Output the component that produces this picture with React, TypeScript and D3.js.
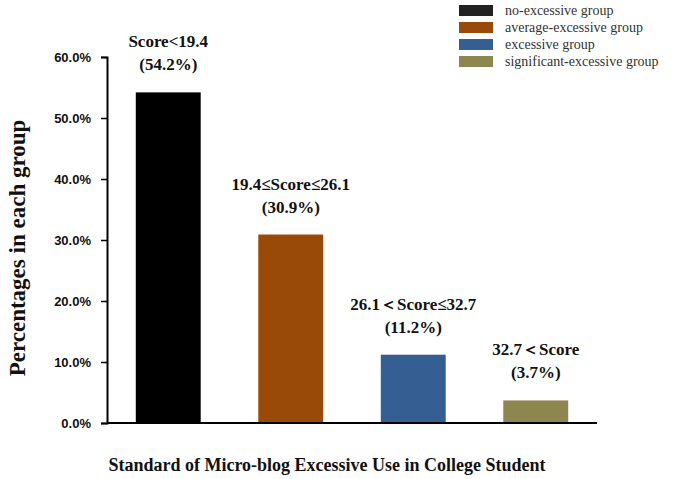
import React, { useEffect, useRef } from 'react'
import * as d3 from 'd3'

const categories = ['no-excessive group', 'average-excessive group', 'excessive group', 'significant-excessive group']
const percentages = [54.2, 30.9, 11.2, 3.7]
const rangeLabels = ['Score<19.4', '19.4≤Score≤26.1', '26.1＜Score≤32.7', '32.7＜Score']
const barColors = ['#000000', '#9a4a08', '#355f92', '#8c864f']
const yTicks = [0, 10, 20, 30, 40, 50, 60]

const W = 675
const H = 479
const left = 107
const right = 597
const top = 57
const bottom = 423

const serif = '"Liberation Serif", "Times New Roman", serif'

export default function App() {
    const yAxisRef = useRef<SVGGElement>(null)

    const x = d3.scaleBand<string>()
        .domain(categories)
        .range([left, right])
        .paddingInner(0.47)
        .paddingOuter(0.235)
    const y = d3.scaleLinear().domain([0, 60]).range([bottom, top])

    useEffect(() => {
        const g = d3.select(yAxisRef.current)
        g.selectAll('*').remove()
        g.call(
            d3.axisLeft(y)
                .tickValues(yTicks)
                .tickSize(6)
                .tickPadding(10)
                .tickFormat(d => (d as number).toFixed(1) + '%')
        )
        g.select('.domain').attr('stroke', '#000').attr('stroke-width', 2)
        g.selectAll('.tick line').attr('stroke', '#000').attr('stroke-width', 1.5)
        g.selectAll('.tick text')
            .attr('fill', '#111')
            .style('font-family', '"Liberation Sans", Arial, sans-serif')
            .style('font-weight', 'bold')
            .style('font-size', '13px')
    }, [])

    return (
        <svg width={W} height={H} style={{ position: 'absolute', left: 0, top: 0, background: '#fff' }}>
            {/* bars */}
            {categories.map((c, i) => (
                <rect key={c}
                    x={x(c)}
                    y={y(percentages[i])}
                    width={x.bandwidth()}
                    height={bottom - y(percentages[i])}
                    fill={barColors[i]} />
            ))}

            {/* labels above bars */}
            {categories.map((c, i) => {
                const cx = (x(c) as number) + x.bandwidth() / 2
                const ty = y(percentages[i])
                return (
                    <g key={c + 'lbl'} fontFamily={serif} fontWeight="bold" fontSize={17} fill="#111" textAnchor="middle">
                        <text x={cx} y={ty - 45}>{rangeLabels[i]}</text>
                        <text x={cx} y={ty - 22}>({percentages[i].toFixed(1)}%)</text>
                    </g>
                )
            })}

            {/* axes */}
            <g ref={yAxisRef} transform={`translate(${left},0)`} />
            <line x1={left} x2={right} y1={bottom} y2={bottom} stroke="#000" strokeWidth={2} />

            <text transform={`translate(25,${(top + bottom) / 2 + 8}) rotate(-90)`} textAnchor="middle"
                fontFamily={serif} fontWeight="bold" fontSize={23} fill="#111">
                Percentages in each group
            </text>
            <text x={327} y={471} textAnchor="middle"
                fontFamily={serif} fontWeight="bold" fontSize={18} fill="#111">
                Standard of Micro-blog Excessive Use in College Student
            </text>

            {/* legend */}
            {categories.map((c, i) => (
                <g key={c + 'leg'} transform={`translate(459,${5 + i * 17})`}>
                    <rect width={34} height={11} fill={i === 0 ? '#222' : barColors[i]} />
                    <text x={46} y={10} fontFamily={serif} fontSize={14} fill="#333">{c}</text>
                </g>
            ))}
        </svg>
    )
}
